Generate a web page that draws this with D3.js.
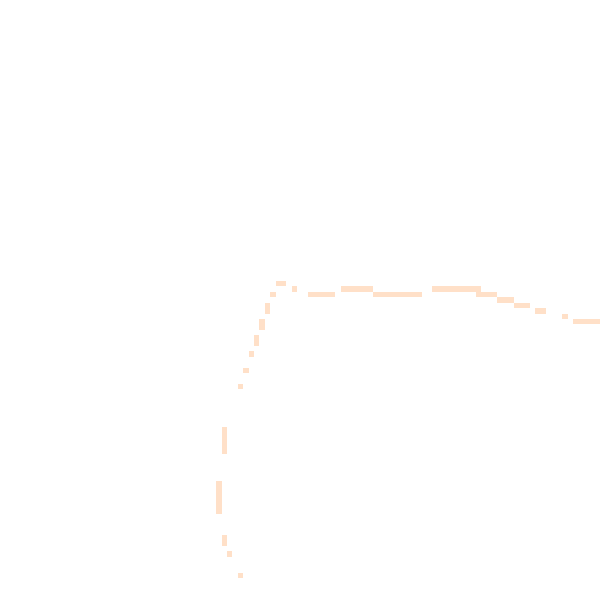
<!DOCTYPE html>
<html>
<head>
<meta charset="utf-8">
<script src="https://cdn.jsdelivr.net/npm/d3@7"></script>
<style>
  html, body { margin: 0; padding: 0; background: #fff; }
  #chart { width: 600px; height: 600px; }
</style>
</head>
<body>
<div id="chart"></div>
<script>
// grid is 111 x 111 cells, each run of lit cells: columns colStart..colEnd, rows rowStart..rowEnd
const gridSize = 111;
const colStart = [51, 54, 63, 80, 50, 57, 69, 88, 92, 49, 95, 99, 104, 48, 106, 47, 46, 45, 44, 41, 40, 41, 42, 44];
const colEnd   = [52, 54, 68, 88, 50, 61, 77, 91, 94, 49, 97, 100, 104, 48, 110, 47, 46, 45, 44, 41, 40, 41, 42, 44];
const rowStart = [52, 53, 53, 53, 54, 54, 54, 54, 55, 56, 56, 57, 58, 59, 59, 62, 65, 68, 71, 79, 89, 99, 102, 106];
const rowEnd   = [52, 53, 53, 53, 54, 54, 54, 54, 55, 57, 56, 57, 58, 60, 59, 63, 65, 68, 71, 83, 94, 100, 102, 106];

const width = 600, height = 600;

const svg = d3.select('#chart')
    .append('svg')
    .attr('width', width)
    .attr('height', height);

const x = d3.scaleBand().domain(d3.range(gridSize)).range([0, width]).padding(0);
const y = d3.scaleBand().domain(d3.range(gridSize)).range([0, height]).padding(0);

const runs = colStart.map((c, i) => ({
    c0: c, c1: colEnd[i], r0: rowStart[i], r1: rowEnd[i]
}));

svg.append('g')
    .attr('shape-rendering', 'crispEdges')
    .selectAll('rect')
    .data(runs)
    .enter().append('rect')
    .attr('x', d => x(d.c0))
    .attr('y', d => y(d.r0))
    .attr('width', d => x(d.c1) + x.bandwidth() - x(d.c0))
    .attr('height', d => y(d.r1) + y.bandwidth() - y(d.r0))
    .attr('fill', '#ffe0c8');
</script>
</body>
</html>
